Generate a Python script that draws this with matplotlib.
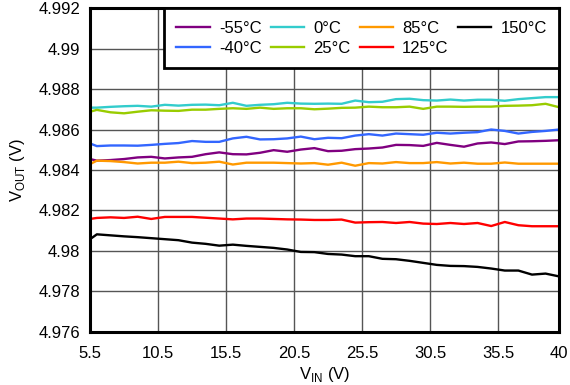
import matplotlib
matplotlib.use("Agg")
import matplotlib.pyplot as plt

plt.rcParams['font.family'] = ['Liberation Sans', 'DejaVu Sans']
plt.rcParams['mathtext.fontset'] = 'custom'
plt.rcParams['mathtext.rm'] = 'Liberation Sans'

# input voltage sweep (V)
vin = [5.5, 6, 7, 8, 9, 10, 11, 12, 13, 14, 15, 16, 17, 18, 19, 20, 21, 22,
       23, 24, 25, 26, 27, 28, 29, 30, 31, 32, 33, 34, 35, 36, 37, 38, 39, 40]

# output voltage per temperature (V)
v_m55 = [4.98454, 4.98446, 4.98449, 4.98454, 4.98462, 4.98465, 4.98457, 4.98462,
         4.98465, 4.98478, 4.98487, 4.98478, 4.98477, 4.98485, 4.98498, 4.98490,
         4.98501, 4.98508, 4.98493, 4.98495, 4.98503, 4.98506, 4.98511, 4.98524,
         4.98523, 4.98519, 4.98534, 4.98524, 4.98515, 4.98531, 4.98536, 4.98528,
         4.98541, 4.98542, 4.98544, 4.98547]
v_m40 = [4.98531, 4.98518, 4.98521, 4.98521, 4.98520, 4.98524, 4.98529, 4.98533,
         4.98543, 4.98539, 4.98539, 4.98556, 4.98564, 4.98551, 4.98552, 4.98556,
         4.98565, 4.98552, 4.98559, 4.98557, 4.98570, 4.98577, 4.98570, 4.98580,
         4.98577, 4.98574, 4.98584, 4.98580, 4.98584, 4.98587, 4.98600, 4.98593,
         4.98580, 4.98588, 4.98593, 4.98600]
v_0 = [4.98708, 4.98708, 4.98712, 4.98715, 4.98717, 4.98713, 4.98722, 4.98718,
       4.98722, 4.98723, 4.98720, 4.98732, 4.98717, 4.98722, 4.98725, 4.98732,
       4.98728, 4.98727, 4.98728, 4.98727, 4.98743, 4.98735, 4.98737, 4.98750,
       4.98752, 4.98745, 4.98743, 4.98748, 4.98743, 4.98747, 4.98747, 4.98742,
       4.98750, 4.98755, 4.98760, 4.98760]
v_25 = [4.98688, 4.98697, 4.98685, 4.98680, 4.98688, 4.98695, 4.98693, 4.98692,
        4.98698, 4.98698, 4.98702, 4.98705, 4.98702, 4.98708, 4.98702, 4.98705,
        4.98705, 4.98700, 4.98703, 4.98707, 4.98708, 4.98713, 4.98710, 4.98710,
        4.98713, 4.98702, 4.98713, 4.98713, 4.98712, 4.98713, 4.98713, 4.98717,
        4.98718, 4.98720, 4.98727, 4.98710]
v_85 = [4.98429, 4.98446, 4.98444, 4.98439, 4.98432, 4.98436, 4.98436, 4.98441,
        4.98434, 4.98436, 4.98441, 4.98427, 4.98436, 4.98436, 4.98436, 4.98434,
        4.98432, 4.98434, 4.98426, 4.98436, 4.98421, 4.98434, 4.98432, 4.98439,
        4.98434, 4.98434, 4.98439, 4.98432, 4.98436, 4.98431, 4.98431, 4.98437,
        4.98431, 4.98431, 4.98431, 4.98431]
v_125 = [4.98158, 4.98163, 4.98166, 4.98163, 4.98169, 4.98158, 4.98168, 4.98168,
         4.98168, 4.98164, 4.98160, 4.98156, 4.98160, 4.98160, 4.98158, 4.98156,
         4.98155, 4.98153, 4.98153, 4.98155, 4.98140, 4.98142, 4.98143, 4.98138,
         4.98143, 4.98135, 4.98133, 4.98138, 4.98133, 4.98138, 4.98123, 4.98143,
         4.98127, 4.98122, 4.98122, 4.98122]
v_150 = [4.98058, 4.98082, 4.98077, 4.98072, 4.98068, 4.98063, 4.98058, 4.98053,
         4.98041, 4.98035, 4.98026, 4.98031, 4.98025, 4.98020, 4.98015, 4.98007,
         4.97995, 4.97994, 4.97985, 4.97982, 4.97974, 4.97974, 4.97961, 4.97959,
         4.97951, 4.97941, 4.97931, 4.97926, 4.97925, 4.97921, 4.97913, 4.97903,
         4.97903, 4.97883, 4.97888, 4.97874]

series = [
    ('-55°C', v_m55, '#800080'),
    ('-40°C', v_m40, '#3366FF'),
    ('0°C', v_0, '#33CCCC'),
    ('25°C', v_25, '#99CC00'),
    ('85°C', v_85, '#FF9900'),
    ('125°C', v_125, '#FF0000'),
    ('150°C', v_150, '#000000'),
]

xticks = [5.5, 10.5, 15.5, 20.5, 25.5, 30.5, 35.5, 40]
yticks = [4.976, 4.978, 4.98, 4.982, 4.984, 4.986, 4.988, 4.99, 4.992]

fig = plt.figure(figsize=(5.7, 3.85), dpi=100)
ax = fig.add_axes([0.158, 0.138, 0.823, 0.841])

for label, vals, color in series:
    ax.plot(vin, vals, color=color, lw=1.7, label=label)

ax.set_xlim(5.5, 40)
ax.set_ylim(4.976, 4.992)
ax.set_xticks(xticks)
ax.set_xticklabels(['5.5', '10.5', '15.5', '20.5', '25.5', '30.5', '35.5', '40'])
ax.set_yticks(yticks)
ax.set_yticklabels(['4.976', '4.978', '4.98', '4.982', '4.984', '4.986',
                    '4.988', '4.99', '4.992'])
ax.tick_params(axis='x', length=0, labelsize=12, pad=10)
ax.tick_params(axis='y', length=0, labelsize=12, pad=7)
ax.grid(True, color='#555555', lw=1.0)
ax.set_axisbelow(True)
for sp in ax.spines.values():
    sp.set_linewidth(2.2)
    sp.set_color('black')

ax.set_xlabel(r'V$_{\mathregular{IN}}$ (V)', fontsize=12, labelpad=3)
ax.set_ylabel(r'V$_{\mathregular{OUT}}$ (V)', fontsize=12, labelpad=8)

leg = ax.legend(ncol=4, loc='upper right', borderaxespad=0, fontsize=12,
                fancybox=False, framealpha=1, edgecolor='black',
                handlelength=2.0, handletextpad=0.55, columnspacing=0.55,
                labelspacing=0.3, borderpad=0.75)
leg.get_frame().set_linewidth(2.0)

fig.savefig('out.png', dpi=100)
